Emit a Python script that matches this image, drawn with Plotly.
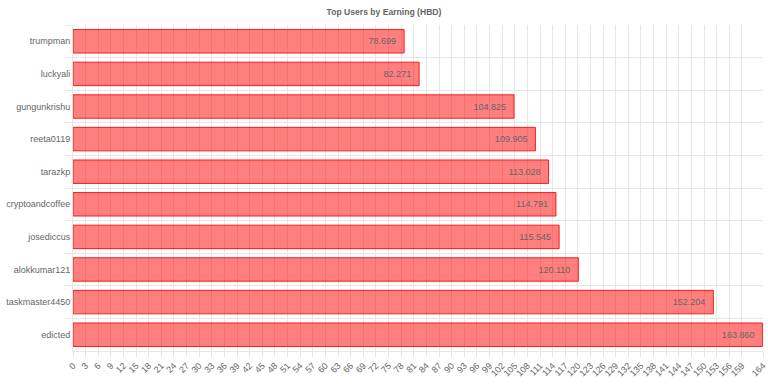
import plotly.graph_objects as go

users = ["trumpman", "luckyali", "gungunkrishu", "reeta0119", "tarazkp",
         "cryptoandcoffee", "josediccus", "alokkumar121", "taskmaster4450", "edicted"]
earnings = [78.699, 82.271, 104.825, 109.905, 113.028, 114.791, 115.545, 120.110, 152.204, 163.860]
tick_vals = list(range(0, 160, 3)) + [164]
tick_text = [str(v) for v in tick_vals]

grid = "#e6e6e6"
txt = "#666666"
font = "Liberation Sans, Arial, Helvetica, sans-serif"

fig = go.Figure(go.Bar(
    x=earnings, y=users, orientation="h",
    marker=dict(color="rgba(255,0,0,0.5)", line=dict(color="rgba(255,0,0,0.85)", width=1)),
    texttemplate="%{x:.3f}\u00a0\u00a0", textposition="inside", insidetextanchor="end",
    textfont=dict(color=txt, size=9, family=font),
    cliponaxis=False,
))

fig.update_layout(
    width=768, height=384,
    margin=dict(l=73, r=5, t=25, b=33),
    paper_bgcolor="white", plot_bgcolor="white",
    title=dict(text="<b>Top Users by Earning (HBD)</b>", x=0.5, xanchor="center",
               y=1 - 12 / 384, yanchor="middle",
               font=dict(size=8.6, color=txt, family=font)),
    bargap=0.28,
    showlegend=False,
    font=dict(family=font, color=txt, size=9),
)
fig.update_xaxes(
    range=[0, 164], tickmode="array", tickvals=tick_vals, ticktext=tick_text,
    tickangle=-45, showgrid=True, gridcolor=grid, gridwidth=1,
    ticks="outside", ticklen=5, tickcolor=grid,
    showline=True, linecolor=grid, zeroline=False, automargin=False,
    tickfont=dict(size=9, color=txt, family=font),
)
fig.update_yaxes(
    type="category", categoryorder="array", categoryarray=users, autorange="reversed",
    tickson="boundaries", showgrid=True, gridcolor=grid, gridwidth=1,
    ticks="outside", ticklen=7, tickcolor=grid,
    showline=True, linecolor=grid, zeroline=False, automargin=False,
    tickfont=dict(size=9, color=txt, family=font),
)

fig.write_html("out.html", config={"displayModeBar": False},
               post_script="document.body.style.margin='0';")
